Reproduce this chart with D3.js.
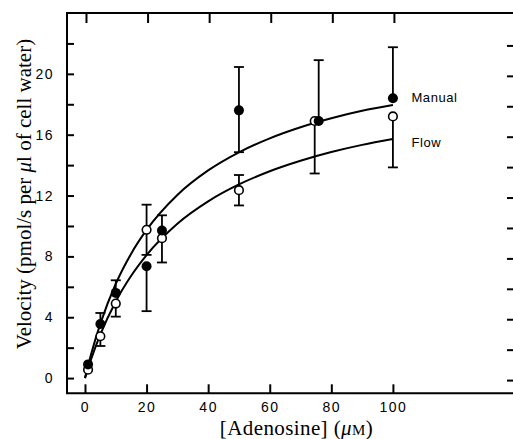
<!DOCTYPE html>
<html><head><meta charset="utf-8">
<script src="https://cdn.jsdelivr.net/npm/d3@7/dist/d3.min.js"></script>
<style>
html,body{margin:0;padding:0;background:#fff;}
svg{display:block;}
</style></head>
<body>
<svg id="chart" width="513" height="439"></svg>
<script>
// ---- data ----
const manualX    = [1, 5, 10, 20, 25, 50, 75.9, 100];
const manualY    = [0.9, 3.55, 5.6, 7.35, 9.7, 17.6, 16.9, 18.4];
const manualUp   = [0, 0.73, 0.83, 0, 1.0, 2.85, 4.0, 3.35];
const manualDown = [0, 0, 0, 2.95, 0, 2.75, 0, 0];

const flowX    = [1, 5, 10, 20, 25, 50, 74.6, 100];
const flowY    = [0.55, 2.75, 4.9, 9.75, 9.2, 12.35, 16.9, 17.2];
const flowUp   = [0, 0, 0, 1.65, 0, 1.0, 0, 0];
const flowDown = [0, 0.64, 0.86, 1.65, 1.6, 1.0, 3.45, 3.35];

// fitted curves
const curveX      = [0, 2, 5, 10, 15, 20, 30, 40, 50, 60, 70, 80, 90, 100];
const manualCurve = [0, 1.58, 3.58, 6.20, 8.18, 9.74, 12.04, 13.65, 14.84, 15.76, 16.49, 17.08, 17.57, 17.95];
const flowCurve   = [0, 1.25, 2.87, 5.04, 6.73, 8.09, 10.15, 11.62, 12.73, 13.60, 14.29, 14.86, 15.33, 15.72];

const xTicks = [0, 20, 40, 60, 80, 100];
const yTicks = [0, 2, 4, 6, 8, 10, 12, 14, 16, 18, 20, 22];
const yLabelTicks = [0, 4, 8, 12, 16, 20];
const seriesLabels = ["Manual", "Flow"];

// ---- layout ----
const svg = d3.select("#chart");
const L = 67, R = 513, T = 13, B = 393.3;
const x = d3.scaleLinear().domain([-5.84, 139]).range([L, R]);
const y = d3.scaleLinear().domain([-1, 24]).range([B, T]);
const sans = "'Liberation Sans', Arial, Helvetica, sans-serif";
const serif = "'Liberation Serif', 'Times New Roman', serif";

// frame
svg.append("path")
  .attr("d", `M${R},${T}H${L}V${B}H${R}`)
  .attr("fill", "none").attr("stroke", "#000").attr("stroke-width", 2);

// bottom axis
const gx = svg.append("g").attr("transform", `translate(0,${B})`)
  .call(d3.axisBottom(x).tickValues(xTicks).tickSizeInner(-9).tickSizeOuter(0).tickPadding(8.5));
// top axis
const gt = svg.append("g").attr("transform", `translate(1,${T})`)
  .call(d3.axisTop(x).tickValues(xTicks).tickSizeInner(-10).tickSizeOuter(0).tickFormat(""));
// left axis
const gy = svg.append("g").attr("transform", `translate(${L},0)`)
  .call(d3.axisLeft(y).tickValues(yTicks).tickSizeInner(-7).tickSizeOuter(0).tickPadding(13)
    .tickFormat(d => yLabelTicks.includes(d) ? d : ""));
// right axis (ticks only, partly cut off)
const gr = svg.append("g").attr("transform", `translate(${R + 1},2)`)
  .call(d3.axisRight(y).tickValues(yTicks).tickSizeInner(-7).tickSizeOuter(0).tickFormat(""));

[gx, gt, gy, gr].forEach(g => {
  g.select(".domain").remove();
  g.selectAll(".tick line").attr("stroke", "#000").attr("stroke-width", 2);
  g.selectAll(".tick text").attr("fill", "#000").attr("font-family", sans)
    .attr("font-size", 14).attr("letter-spacing", "1.5px");
});

// curves
const line = d3.line().x(d => x(d[0])).y(d => y(d[1])).curve(d3.curveMonotoneX);
[manualCurve, flowCurve].forEach(c => {
  svg.append("path").datum(curveX.map((v, i) => [v, c[i]]))
    .attr("d", line).attr("fill", "none").attr("stroke", "#000").attr("stroke-width", 2);
});

// error bars
function errBars(xs, ys, up, down) {
  const g = svg.append("g").attr("stroke", "#000").attr("stroke-width", 1.8);
  xs.forEach((xv, i) => {
    const cx = x(xv);
    if (up[i] > 0) {
      g.append("line").attr("x1", cx).attr("x2", cx).attr("y1", y(ys[i])).attr("y2", y(ys[i] + up[i]));
      g.append("line").attr("x1", cx - 5).attr("x2", cx + 5).attr("y1", y(ys[i] + up[i])).attr("y2", y(ys[i] + up[i]));
    }
    if (down[i] > 0) {
      g.append("line").attr("x1", cx).attr("x2", cx).attr("y1", y(ys[i])).attr("y2", y(ys[i] - down[i]));
      g.append("line").attr("x1", cx - 5).attr("x2", cx + 5).attr("y1", y(ys[i] - down[i])).attr("y2", y(ys[i] - down[i]));
    }
  });
}
errBars(manualX, manualY, manualUp, manualDown);
errBars(flowX, flowY, flowUp, flowDown);

// points: open (flow) then filled (manual)
svg.append("g").selectAll("circle").data(flowX.map((v, i) => [v, flowY[i]])).join("circle")
  .attr("cx", d => x(d[0])).attr("cy", d => y(d[1])).attr("r", 4.3)
  .attr("fill", "#fff").attr("stroke", "#000").attr("stroke-width", 1.6);
svg.append("g").selectAll("circle").data(manualX.map((v, i) => [v, manualY[i]])).join("circle")
  .attr("cx", d => x(d[0])).attr("cy", d => y(d[1])).attr("r", 5)
  .attr("fill", "#000");

// series labels
svg.append("text").attr("x", x(106)).attr("y", y(18.4) + 4).text(seriesLabels[0])
  .attr("font-family", sans).attr("font-size", 13).attr("letter-spacing", "0.6px").attr("fill", "#000");
svg.append("text").attr("x", x(106)).attr("y", y(15.6) + 6.5).text(seriesLabels[1])
  .attr("font-family", sans).attr("font-size", 13).attr("letter-spacing", "0.6px").attr("fill", "#000");

// axis titles
const xt = svg.append("text").attr("x", 296.5).attr("y", 434.5).attr("text-anchor", "middle")
  .attr("font-family", serif).attr("font-size", 21).attr("letter-spacing", "0.4px").attr("fill", "#000");
xt.append("tspan").text("[Adenosine] (");
xt.append("tspan").attr("font-style", "italic").text("μ");
xt.append("tspan").attr("font-size", 15).text("M");
xt.append("tspan").text(")");

const yt = svg.append("text").attr("transform", "translate(31,194) rotate(-90)").attr("text-anchor", "middle")
  .attr("font-family", serif).attr("font-size", 21).attr("fill", "#000");
yt.append("tspan").text("Velocity (pmol/s per ");
yt.append("tspan").attr("font-style", "italic").text("μ");
yt.append("tspan").text("l of cell water)");
</script>
</body></html>
